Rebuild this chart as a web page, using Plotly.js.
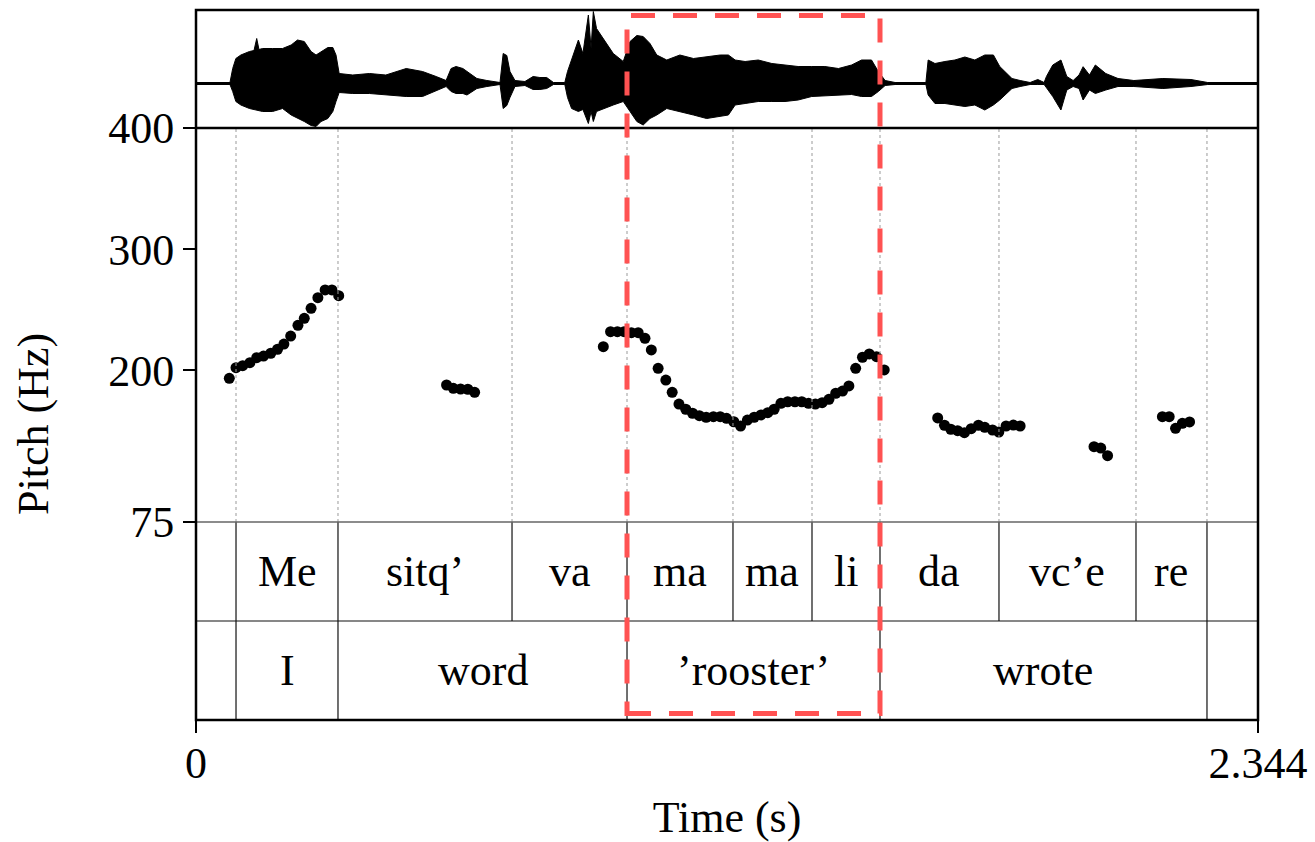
<!DOCTYPE html>
<html>
<head>
<meta charset="utf-8">
<script src="https://cdn.plot.ly/plotly-3.0.1.min.js"></script>
<style>
  html, body { margin: 0; padding: 0; background: #fff; }
  #chart { width: 1315px; height: 842px; }
</style>
</head>
<body>
<div id="chart"></div>
<script>
// ---- Waveform envelope (time in s, upper / lower amplitude, relative units) ----
const waveTime = [0.000,0.075,0.081,0.088,0.099,0.118,0.128,0.134,0.139,0.147,0.169,0.191,0.210,0.224,0.239,0.254,0.265,0.276,0.291,0.302,0.309,0.316,0.346,0.383,0.419,0.464,0.500,0.530,0.552,0.563,0.574,0.589,0.598,0.620,0.642,0.671,0.678,0.686,0.693,0.704,0.726,0.744,0.759,0.774,0.789,0.814,0.820,0.829,0.844,0.854,0.866,0.872,0.877,0.884,0.899,0.921,0.943,0.958,0.973,0.987,1.002,1.017,1.039,1.068,1.098,1.127,1.157,1.175,1.190,1.212,1.241,1.271,1.300,1.329,1.359,1.388,1.418,1.447,1.469,1.491,1.506,1.521,1.543,1.611,1.616,1.631,1.653,1.675,1.697,1.719,1.741,1.760,1.774,1.801,1.819,1.841,1.858,1.872,1.877,1.891,1.909,1.922,1.936,1.949,1.958,1.972,1.985,2.008,2.035,2.070,2.134,2.196,2.233,2.344];
const waveUpper = [1,1,15,25,28.5,32,33,45,34,35,35,35,38.5,43.5,42,32,28.5,32,36,36,28.5,10,8.5,10,8.5,15,12,7,3,15,17,15,12,5,3,1,30,28,12,3,2,7,6,6,1,1,12,23.5,43.5,30,68.5,35,72,55,45,30,22,42,48,47,40,28.5,23.5,28.5,25,26.5,28.5,28.5,23.5,22,23.5,20,18.5,17,17,17,15,18.5,23.5,23.5,12,3,1,1,23.5,20,22,23.5,26.5,23.5,28.5,28.5,17,5,3,1,4,1,7,18.5,23.5,7,3,8.5,16.8,8.5,18.5,10,5,3,5,4,1,1];
const waveLower = [-1,-1,-8,-18,-21.5,-25,-26,-26.5,-27,-28,-28,-25,-31.5,-35,-38,-42,-43,-38,-35,-28,-18,-9,-10,-10,-11,-13,-13,-7.5,-3,-8,-10,-10,-11.5,-5,-3,-1,-25,-22,-14,-3,-2,-6,-6,-5,-1,-1,-14,-25,-28,-26,-40,-28,-38,-28,-25,-21.5,-18,-28,-38,-41.5,-35,-31.5,-25,-28,-31.5,-35,-33,-31.5,-21.5,-20,-18,-18,-18,-16.5,-13,-12,-11.5,-11,-13,-13,-8,-2,-1,-1,-11.5,-20,-20,-21.5,-23,-21.5,-26.5,-21.5,-16.5,-5,-3,-1,-1,-1,-5,-13,-26.5,-6.5,-3,-5,-16.5,-6.5,-10,-6.5,-3,-3,-5,-3,-1,-1];

// ---- Pitch track (time in s, F0 in Hz) ----
const pitchTime = [
  0.0735,0.0883,0.103,0.119,0.134,0.149,0.165,0.180,0.194,0.209,0.225,0.239,0.254,0.269,0.285,0.300,0.315,
  0.553,0.568,0.584,0.600,0.615,
  0.899,0.915,0.930,0.945,0.961,0.976,0.991,1.005,1.020,1.037,1.051,1.066,1.081,1.096,1.111,1.126,1.142,1.157,1.171,1.187,1.202,1.217,1.232,1.247,1.262,1.276,1.291,1.306,1.322,1.337,1.352,1.367,1.382,1.397,1.412,1.427,1.441,1.456,1.471,1.486,1.502,1.519,
  1.637,1.652,1.666,1.681,1.696,1.711,1.727,1.741,1.758,1.772,1.788,1.804,1.819,
  1.982,1.997,2.012,
  2.133,2.148,2.162,2.177,2.193
];
const pitchHz = [
  193.5,202.3,203.9,206.4,210.5,211.9,214.2,217.5,221.8,228.4,237.2,243.0,251.3,260.0,266.4,266.4,261.7,
  188.0,185.3,184.7,184.5,182.0,
  219.6,232.0,232.0,232.0,231.2,231.2,226.5,216.9,201.8,192.1,182.0,172.3,168.0,164.7,162.7,161.4,161.9,161.9,160.5,157.7,154.2,159.1,161.4,163.3,165.2,168.0,172.9,174.2,174.2,174.2,172.9,172.3,173.4,176.2,181.2,183.0,187.2,201.8,210.9,213.6,211.4,200.4,
  160.8,154.8,151.5,150.3,148.7,152.0,154.8,153.1,150.9,149.2,154.2,155.0,154.2,
  137.1,136.0,129.7,
  161.9,161.9,152.3,156.4,157.5
];

// ---- Annotation tiers ----
const syllableBounds = [0, 0.0883, 0.3134, 0.6975, 0.9513, 1.1852, 1.3596, 1.5097, 1.7723, 2.0747, 2.2314, 2.344];
const syllableLabels = ['', 'Me', 'sitq’', 'va', 'ma', 'ma', 'li', 'da', 'vc’e', 're', ''];
const wordBounds = [0, 0.0883, 0.3134, 0.9513, 1.5097, 2.2314, 2.344];
const wordLabels = ['', 'I', 'word', '’rooster’', 'wrote', ''];
const highlightWord = '’rooster’';

const pitchTicks = [75, 200, 300, 400];
const timeTicks = [0, 2.344];
const timeTickText = ['0', '2.344'];

// ---- Panel geometry (plot area is 710 px tall) ----
const H = 710;
const tierH = 99, pitchH = 394;
const tier2Dom = [0, tierH / H];
const tier1Dom = [tierH / H, 2 * tierH / H];
const pitchDom = [2 * tierH / H, (2 * tierH + pitchH) / H];
const waveDom = [pitchDom[1], 1];

const FONT = 'Liberation Serif, Times New Roman, serif';
const tickFont = { family: FONT, size: 44, color: '#000' };

// Waveform drawn as a closed envelope polygon
const envX = waveTime.concat(waveTime.slice().reverse());
const envY = waveUpper.concat(waveLower.slice().reverse());

const traces = [
  {
    x: [waveTime[0], waveTime[waveTime.length - 1]], y: [0, 0],
    xaxis: 'x', yaxis: 'y2', mode: 'lines',
    line: { color: '#000', width: 1.5 }, hoverinfo: 'skip'
  },
  {
    x: envX, y: envY, xaxis: 'x', yaxis: 'y2',
    mode: 'lines', fill: 'toself', fillcolor: '#000',
    line: { color: '#000', width: 1 }, hoverinfo: 'skip'
  },
  {
    x: pitchTime, y: pitchHz, xaxis: 'x', yaxis: 'y',
    mode: 'markers', marker: { color: '#000', size: 11 },
    hovertemplate: '%{x:.3f} s, %{y:.0f} Hz<extra></extra>'
  }
];

const shapes = [];
const annotations = [];

// Syllable boundaries: dotted through the pitch panel, solid in tier 1
for (let i = 1; i < syllableBounds.length - 1; i++) {
  const t = syllableBounds[i];
  shapes.push({ type: 'line', xref: 'x', yref: 'paper', x0: t, x1: t, y0: pitchDom[0], y1: pitchDom[1],
    line: { color: '#9a9a9a', width: 1, dash: 'dot' } });
  shapes.push({ type: 'line', xref: 'x', yref: 'paper', x0: t, x1: t, y0: tier1Dom[0], y1: tier1Dom[1],
    line: { color: '#111', width: 1.2 } });
}
// Word boundaries in tier 2
for (let i = 1; i < wordBounds.length - 1; i++) {
  const t = wordBounds[i];
  shapes.push({ type: 'line', xref: 'x', yref: 'paper', x0: t, x1: t, y0: tier2Dom[0], y1: tier2Dom[1],
    line: { color: '#111', width: 1.2 } });
}
// Horizontal separators
shapes.push({ type: 'line', xref: 'paper', yref: 'paper', x0: 0, x1: 1, y0: tier1Dom[1], y1: tier1Dom[1],
  line: { color: '#666', width: 1.5 } });
shapes.push({ type: 'line', xref: 'paper', yref: 'paper', x0: 0, x1: 1, y0: tier1Dom[0], y1: tier1Dom[0],
  line: { color: '#111', width: 1.2 } });
shapes.push({ type: 'line', xref: 'paper', yref: 'paper', x0: 0, x1: 1, y0: waveDom[0], y1: waveDom[0],
  line: { color: '#000', width: 2.5 } });
// Outer frame
shapes.push({ type: 'rect', xref: 'paper', yref: 'paper', x0: 0, x1: 1, y0: 0, y1: 1,
  line: { color: '#000', width: 2.5 } });

// Tier labels
function addLabels(bounds, labels, dom) {
  for (let i = 0; i < labels.length; i++) {
    if (!labels[i]) continue;
    annotations.push({
      xref: 'x', yref: 'paper', x: (bounds[i] + bounds[i + 1]) / 2, y: (dom[0] + dom[1]) / 2,
      text: labels[i], showarrow: false, xanchor: 'center', yanchor: 'middle',
      font: tickFont
    });
  }
}
addLabels(syllableBounds, syllableLabels, tier1Dom);
addLabels(wordBounds, wordLabels, tier2Dom);

// Highlight box around the target word
const hi = wordLabels.indexOf(highlightWord);
shapes.push({ type: 'rect', xref: 'x', yref: 'paper',
  x0: wordBounds[hi], x1: wordBounds[hi + 1], y0: 6.5 / H, y1: 1 - 5.5 / H,
  line: { color: 'rgb(255,82,82)', width: 5, dash: '24px,18px' } });

// Vertical axis title spanning pitch panel and tiers
annotations.push({
  xref: 'paper', yref: 'paper', x: -163 / 1062, y: 296 / H,
  text: 'Pitch (Hz)', textangle: -90, showarrow: false,
  xanchor: 'center', yanchor: 'middle', font: tickFont
});

const layout = {
  width: 1315, height: 842,
  margin: { l: 196, r: 57, t: 10, b: 122 },
  paper_bgcolor: '#fff', plot_bgcolor: '#fff',
  showlegend: false,
  xaxis: {
    range: [0, 2.344], domain: [0, 1], anchor: 'free', position: 0,
    tickmode: 'array', tickvals: timeTicks, ticktext: timeTickText,
    ticks: 'outside', ticklen: 12, tickwidth: 2, tickcolor: '#000',
    ticklabelstandoff: -8,
    showgrid: false, zeroline: false, showline: false,
    tickfont: tickFont,
    title: { text: 'Time (s)', font: tickFont, standoff: 16 }
  },
  yaxis: {
    domain: pitchDom, range: [75, 400], anchor: 'x',
    tickmode: 'array', tickvals: pitchTicks,
    ticks: 'outside', ticklen: 12, tickwidth: 2, tickcolor: '#000',
    ticklabelstandoff: 0,
    showgrid: false, zeroline: false, showline: false,
    tickfont: tickFont
  },
  yaxis2: {
    domain: waveDom, range: [-44.5, 73.5], anchor: 'x',
    showticklabels: false, ticks: '', showgrid: false, zeroline: false, showline: false
  },
  shapes: shapes,
  annotations: annotations
};

Plotly.newPlot('chart', traces, layout, { staticPlot: true, displayModeBar: false });
</script>
</body>
</html>
